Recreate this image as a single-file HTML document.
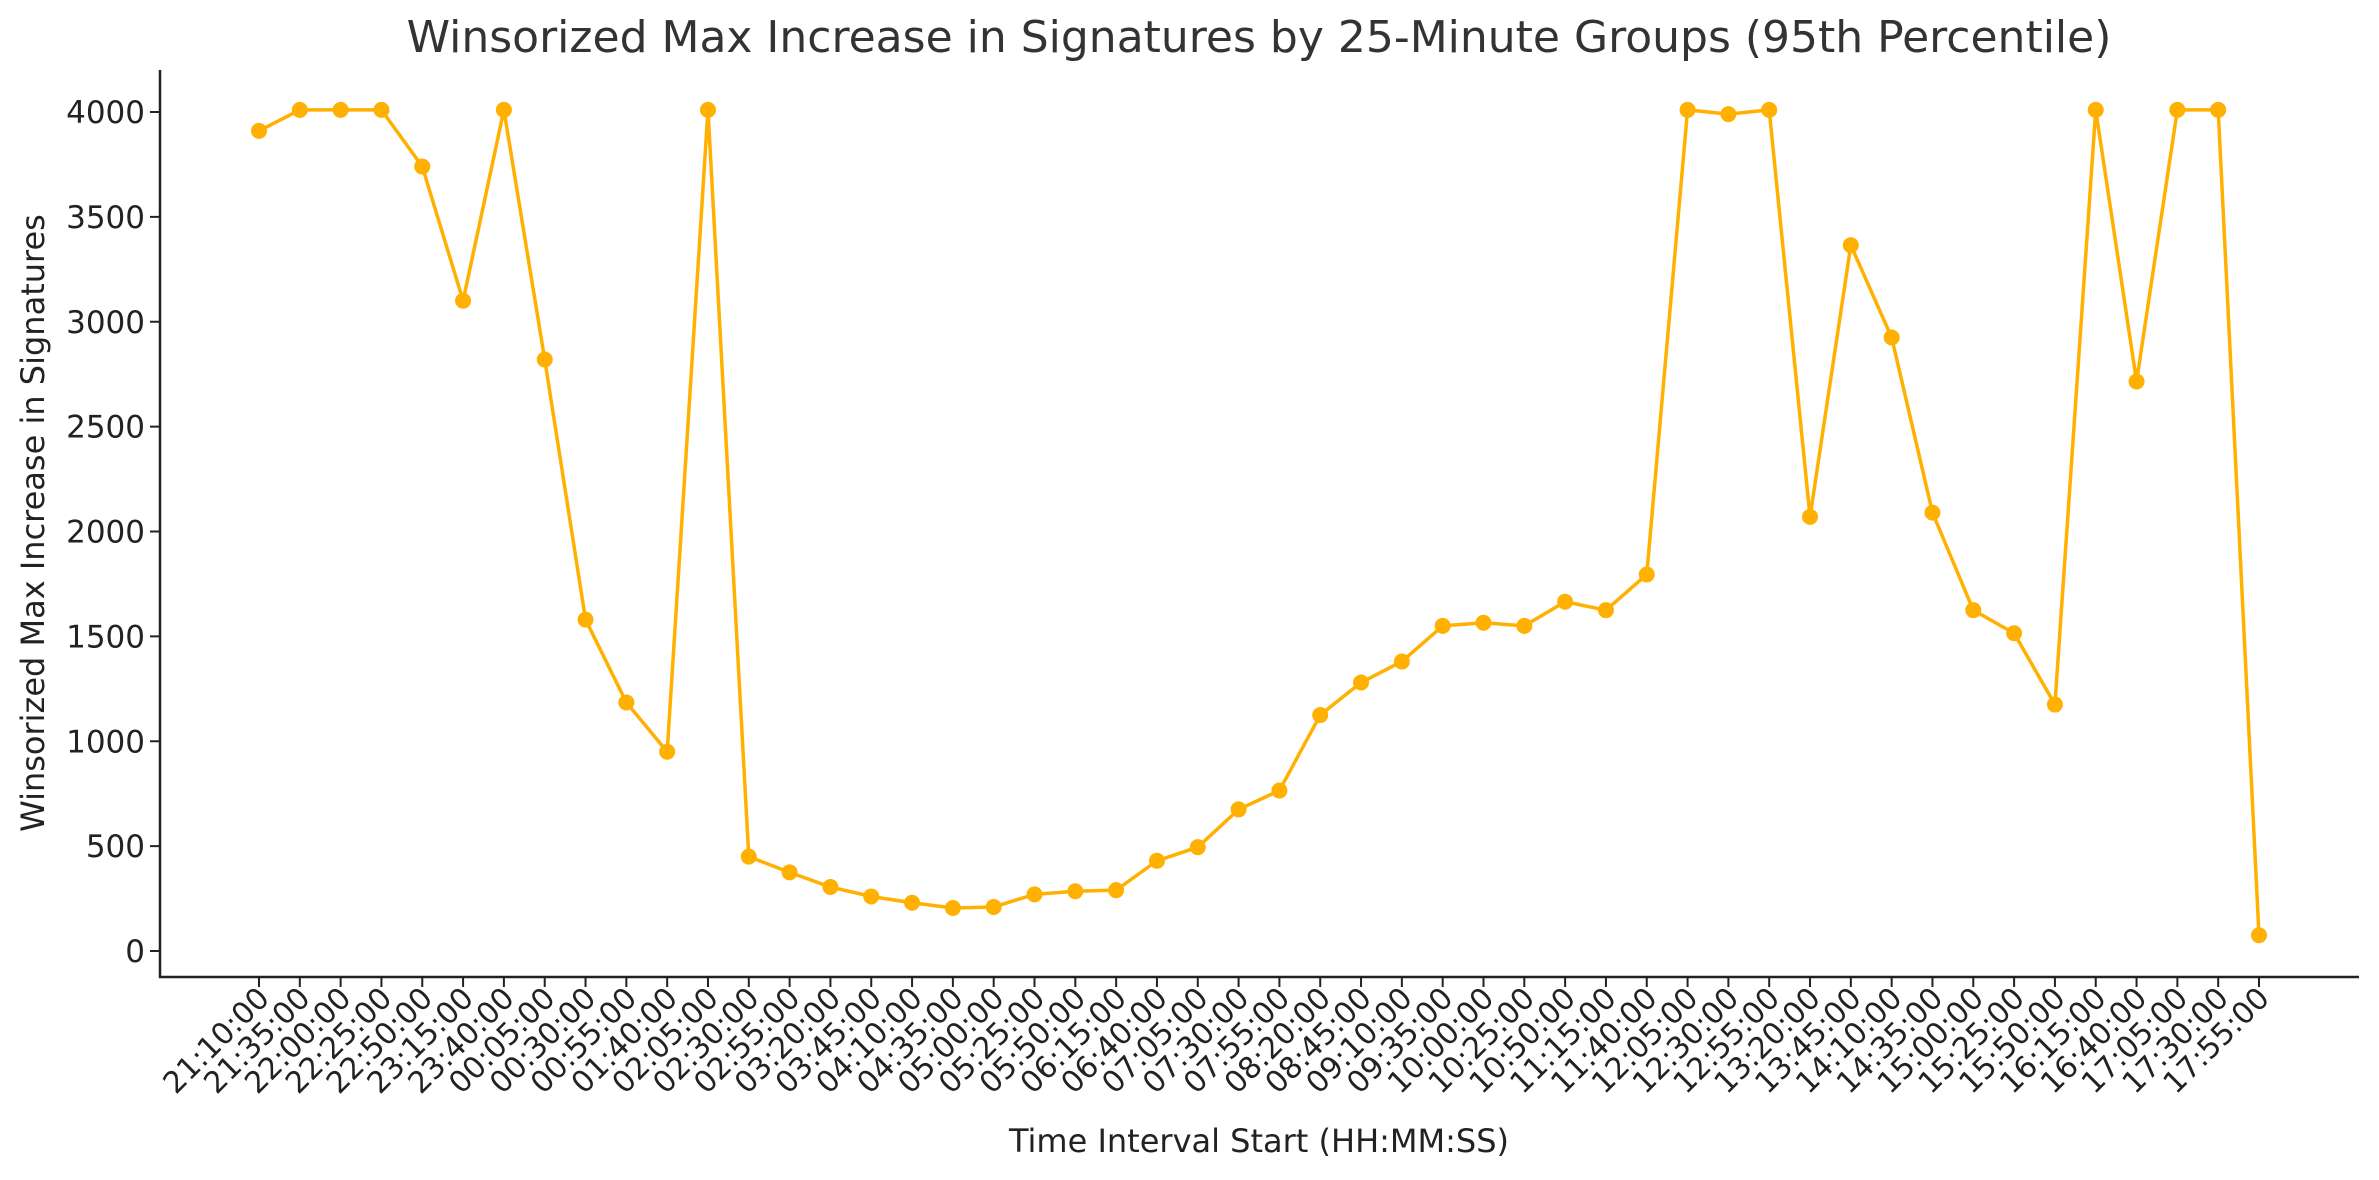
<!DOCTYPE html>
<html><head><meta charset="utf-8"><style>
body{margin:0;background:#fff}
svg{display:block;font-family:"DejaVu Sans","Liberation Sans",sans-serif}
</style></head><body>
<svg id="chart" width="2379" height="1180" xmlns="http://www.w3.org/2000/svg">
<rect width="2379" height="1180" fill="#fff"/>
<text x="1259" y="52" font-size="44" fill="#333" text-anchor="middle">Winsorized Max Increase in Signatures by 25-Minute Groups (95th Percentile)</text>
<text transform="translate(44,523) rotate(-90)" font-size="32" fill="#222" text-anchor="middle">Winsorized Max Increase in Signatures</text>
<text x="1259" y="1152" font-size="32" fill="#222" text-anchor="middle">Time Interval Start (HH:MM:SS)</text>
<g id="yaxis"></g>
<g id="xaxis"></g>
<g id="series"></g>
<line x1="160" y1="70" x2="160" y2="978" stroke="#222" stroke-width="2.5"/>
<line x1="159" y1="977" x2="2359" y2="977" stroke="#222" stroke-width="2.5"/>
</svg>
<script>
const categories=["21:10:00","21:35:00","22:00:00","22:25:00","22:50:00","23:15:00","23:40:00","00:05:00","00:30:00","00:55:00","01:40:00","02:05:00","02:30:00","02:55:00","03:20:00","03:45:00","04:10:00","04:35:00","05:00:00","05:25:00","05:50:00","06:15:00","06:40:00","07:05:00","07:30:00","07:55:00","08:20:00","08:45:00","09:10:00","09:35:00","10:00:00","10:25:00","10:50:00","11:15:00","11:40:00","12:05:00","12:30:00","12:55:00","13:20:00","13:45:00","14:10:00","14:35:00","15:00:00","15:25:00","15:50:00","16:15:00","16:40:00","17:05:00","17:30:00","17:55:00"];
const values=[3910,4010,4010,4010,3740,3100,4010,2820,1580,1185,950,4010,450,375,305,260,230,205,210,270,285,290,430,495,675,765,1125,1280,1380,1550,1565,1550,1665,1625,1795,4010,3990,4010,2070,3365,2925,2090,1625,1515,1175,4010,2715,4010,4010,75];
const yTicks=[0,500,1000,1500,2000,2500,3000,3500,4000];
const NS="http://www.w3.org/2000/svg";
function xPos(i){return 259+i*(2259-259)/(categories.length-1);}
function yPos(v){return 951-v*(951-112)/4000;}
function mk(tag,attrs,parent){const e=document.createElementNS(NS,tag);for(const k in attrs)e.setAttribute(k,attrs[k]);parent.appendChild(e);return e;}
const ya=document.getElementById('yaxis'),xa=document.getElementById('xaxis'),sg=document.getElementById('series');
yTicks.forEach(t=>{
  const y=yPos(t);
  const l=mk('line',{x1:150,x2:160,y1:y,y2:y,stroke:'#222','stroke-width':2},ya);
  
  
  const tx=mk('text',{x:145,y:y+11,'font-size':31,fill:'#222','text-anchor':'end'},ya);
  tx.textContent=t;
  
  
});
categories.forEach((c,i)=>{
  const x=xPos(i);
  const l=mk('line',{x1:x,x2:x,y1:977,y2:987,stroke:'#222','stroke-width':2},xa);
  
  
  const tx=mk('text',{transform:`translate(${x+12},${1000}) rotate(-45)`,'font-size':30,fill:'#222','text-anchor':'end'},xa);
  tx.textContent=c;
  
  
});
const pts=values.map((v,i)=>xPos(i)+','+yPos(v)).join(' ');
const pl=mk('polyline',{points:pts,fill:'none',stroke:'#FFB000','stroke-width':3.5,'stroke-linejoin':'round'},sg);


values.forEach((v,i)=>{
  const c=mk('circle',{cx:xPos(i),cy:yPos(v),r:8,fill:'#FFB000'},sg);
  
  
});
</script>
</body></html>
